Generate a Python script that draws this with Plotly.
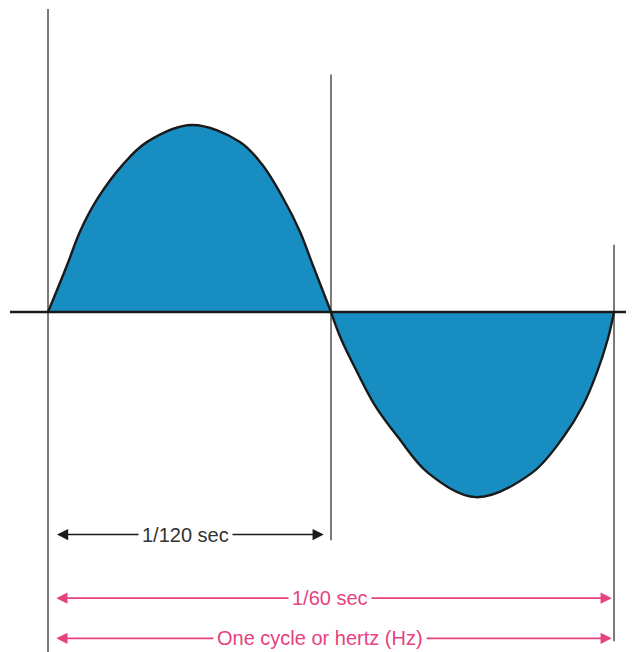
import plotly.graph_objects as go


# ---------------------------------------------------
# Data (time in ms, voltage normalised to peak)
# ---------------------------------------------------
T_HALF = 1000 / 120   # 1/120 sec
T_FULL = 1000 / 60    # 1/60 sec

t_pos = [0, 0.56, 0.94, 1.47, 2.21, 2.92, 4.24, 5.65,
         6.30, 6.92, 7.42, 7.80, T_HALF]
v_pos = [0, 0.25, 0.43, 0.61, 0.79, 0.91, 1.00, 0.91,
         0.79, 0.61, 0.43, 0.25, 0]

t_neg = [T_HALF, 8.62, 9.10, 9.63, 10.31, 11.19, 12.60,
         14.25, 15.17, 15.75, 16.17, 16.49, T_FULL]
v_neg = [0, -0.14, -0.32, -0.50, -0.67, -0.86, -0.99,
         -0.86, -0.67, -0.50, -0.32, -0.14, 0]

labels = ["1/120 sec", "1/60 sec", "One cycle or hertz (Hz)"]


# ---------------------------------------------------
# Colours
# ---------------------------------------------------
FILL = "#188dc2"
PINK = "#e5427f"
GREY = "#5a5a5a"
INK = "#1a1a1a"

fig = go.Figure()

for t, v in [(t_pos, v_pos), (t_neg, v_neg)]:
    fig.add_trace(go.Scatter(
        x=t, y=v,
        mode="lines",
        line=dict(color=INK, width=2.4, shape="spline", smoothing=1.0),
        fill="tozeroy",
        fillcolor=FILL,
        hoverinfo="skip",
        showlegend=False,
    ))

# vertical guide lines
fig.add_shape(type="line", x0=0, x1=0, y0=1.62, y1=-1.82,
              line=dict(color=GREY, width=1.6), layer="below")
fig.add_shape(type="line", x0=T_HALF, x1=T_HALF, y0=1.27, y1=-1.22,
              line=dict(color=GREY, width=1.6), layer="below")
fig.add_shape(type="line", x0=T_FULL, x1=T_FULL, y0=0.36, y1=-1.76,
              line=dict(color=GREY, width=1.6), layer="below")

# horizontal axis
fig.add_shape(type="line", x0=-1.12, x1=17.3, y0=0, y1=0,
              line=dict(color=INK, width=2.5))


# ---------------------------------------------------
# Dimension arrows
# ---------------------------------------------------
def dim_arrow(x0, x1, y, text, xc, color, textcolor):
    fig.add_annotation(
        x=x1, y=y, ax=x0, ay=y,
        xref="x", yref="y", axref="x", ayref="y",
        text="", showarrow=True,
        arrowhead=2, arrowside="end+start",
        arrowsize=1.4, arrowwidth=1.6, arrowcolor=color,
        standoff=0, startstandoff=0,
    )
    fig.add_annotation(
        x=xc, y=y, xref="x", yref="y",
        text=text, showarrow=False,
        font=dict(family="Liberation Sans, Arial", size=20, color=textcolor),
        bgcolor="white", borderpad=3,
    )


dim_arrow(0.22, 8.12, -1.19, labels[0], 4.06, INK, "#333333")
dim_arrow(0.20, 16.60, -1.53, labels[1], 8.30, PINK, PINK)
dim_arrow(0.20, 16.60, -1.745, labels[2], 8.00, PINK, PINK)

# the page body adds an 8px margin, so the figure is 8px smaller each way
fig.update_layout(
    width=626, height=644,
    margin=dict(l=0, r=0, t=0, b=0),
    paper_bgcolor="white",
    plot_bgcolor="white",
    xaxis=dict(range=[-1.178, 17.255], visible=False, fixedrange=True),
    yaxis=dict(range=[-1.818, 1.626], visible=False, fixedrange=True),
)

fig.write_html("out.html")
